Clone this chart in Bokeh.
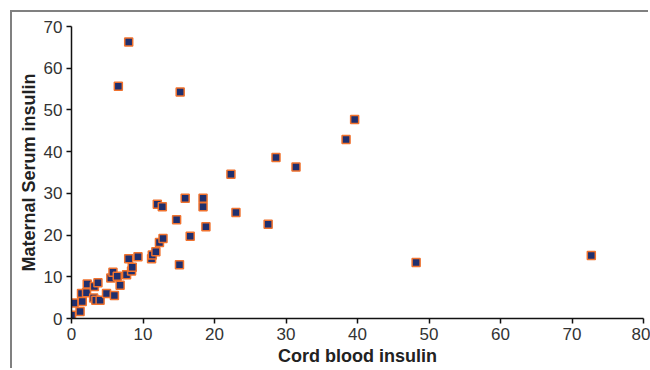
from bokeh.plotting import figure
from bokeh.models import Range1d, FixedTicker
from bokeh.embed import file_html
from bokeh.resources import INLINE

cord = [0.0, 0.35, 1.2, 1.4, 1.5, 2.1, 2.2, 3.1, 3.2, 3.4, 3.7, 4.0, 4.9, 5.5, 5.8,
        6.0, 6.4, 6.8, 7.7, 8.0, 8.4, 8.5, 9.3, 11.2, 11.3, 11.8, 12.0, 12.3, 12.7,
        12.8, 14.7, 15.1, 15.9, 16.6, 18.4, 18.4, 18.8, 8.0, 6.55, 15.2, 39.6, 38.4,
        28.6, 31.4, 22.3, 23.0, 27.5, 48.2, 72.7]
maternal = [0.8, 3.7, 1.7, 6.0, 4.1, 6.2, 8.3, 4.9, 7.7, 4.4, 8.6, 4.4, 6.0, 9.7, 11.1,
            5.5, 10.1, 8.0, 10.5, 14.3, 11.4, 12.3, 14.8, 14.3, 15.2, 16.0, 27.4, 18.2, 26.8,
            19.2, 23.7, 12.9, 28.8, 19.7, 28.8, 26.8, 22.0, 66.3, 55.7, 54.3, 47.7, 42.9,
            38.6, 36.3, 34.6, 25.4, 22.6, 13.4, 15.1]
x_ticks = [0, 10, 20, 30, 40, 50, 60, 70, 80]
y_ticks = [0, 10, 20, 30, 40, 50, 60, 70]
x_title = "Cord blood insulin"
y_title = "Maternal Serum insulin"

p = figure(width=638, height=358, output_backend="svg", toolbar_location=None,
           x_range=Range1d(0, 80), y_range=Range1d(0, 70),
           min_border_left=59, min_border_right=7, min_border_top=14, min_border_bottom=52)
p.styles = {"margin-left": "12px", "margin-top": "12px",
            "box-shadow": "-2px -2px 0 0 #808080"}
p.outline_line_color = None
p.grid.visible = False
p.background_fill_color = "white"
p.border_fill_color = "white"

p.scatter(cord, maternal, marker="square", size=8, fill_color="#1f2f6e",
          line_color="#f0722e", line_width=1.5)

for ax in (p.xaxis[0], p.yaxis[0]):
    ax.axis_line_color = "#111111"
    ax.axis_line_width = 1.5
    ax.major_tick_line_color = "#111111"
    ax.major_tick_line_width = 1.5
    ax.major_tick_out = 5
    ax.major_tick_in = 0
    ax.minor_tick_line_color = None
    ax.major_label_text_font = "Liberation Sans"
    ax.major_label_text_font_size = "17px"
    ax.major_label_text_color = "#333333"
    ax.axis_label_text_font = "Liberation Sans"
    ax.axis_label_text_font_size = "18px"
    ax.axis_label_text_font_style = "bold"
    ax.axis_label_text_color = "#222222"

p.xaxis.ticker = FixedTicker(ticks=x_ticks)
p.yaxis.ticker = FixedTicker(ticks=y_ticks)
p.xaxis.axis_label = x_title
p.yaxis.axis_label = y_title
p.xaxis.major_label_standoff = 4
p.xaxis.axis_label_standoff = 3
p.yaxis.major_label_standoff = 4
p.yaxis.axis_label_standoff = 2

open("out.html", "w").write(file_html(p, INLINE))
